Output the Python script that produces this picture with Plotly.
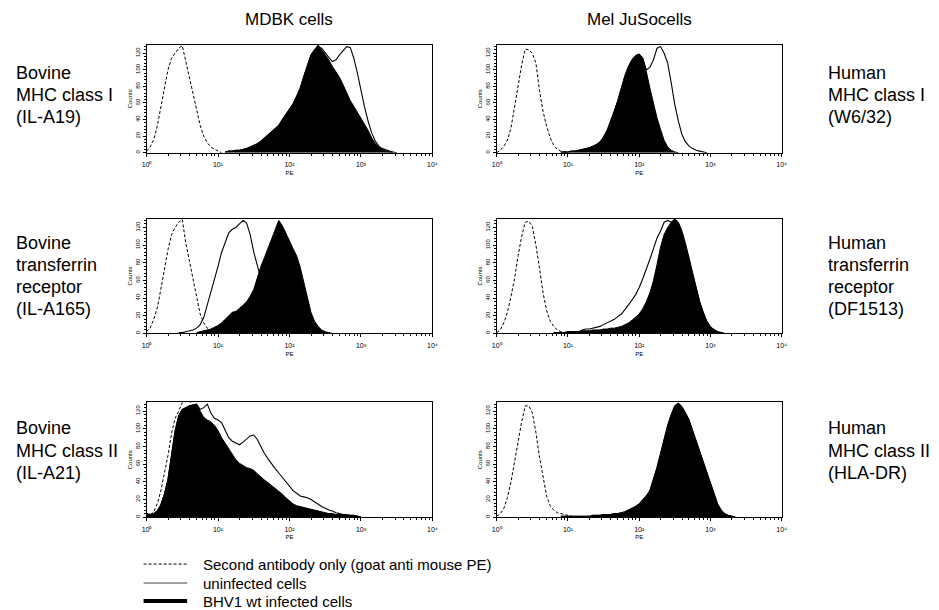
import plotly.graph_objects as go

# ---------------- data ----------------
BIN = 0.05  # histogram channel width in log10(PE)

pe_tick_values = [1, 10, 100, 1000, 10000]
pe_tick_labels = ["10\u2070", "10\u00b9", "10\u00b2", "10\u00b3", "10\u2074"]
count_tick_values = [0, 20, 40, 60, 80, 100, 120]

column_titles = ["MDBK cells", "Mel JuSocells"]
left_labels = [["Bovine", "MHC class I", "(IL-A19)"],
               ["Bovine", "transferrin", "receptor", "(IL-A165)"],
               ["Bovine", "MHC class II", "(IL-A21)"]]
right_labels = [["Human", "MHC class I", "(W6/32)"],
                ["Human", "transferrin", "receptor", "(DF1513)"],
                ["Human", "MHC class II", "(HLA-DR)"]]
legend_labels = ["Second antibody only (goat anti mouse PE)", "uninfected cells", "BHV1 wt infected cells"]

# each series: first channel position (log10 PE) and counts per channel
mdbk_mhc1_control_start = 0.00
mdbk_mhc1_control = [2, 7, 16, 32, 55, 80, 100, 114, 120, 126, 129, 110, 91, 70, 50, 33, 20, 12, 7, 4, 2, 0]
mdbk_mhc1_infected_start = 1.10
mdbk_mhc1_infected = [1, 2, 2, 3, 3, 4, 5, 7, 9, 11, 14, 18, 21, 25, 30, 33, 40, 46, 52, 59, 68, 78, 92, 106, 118,
                      124, 130, 124, 118, 112, 104, 98, 91, 82, 72, 63, 56, 49, 42, 35, 27, 18, 11, 7, 4, 2, 1, 0]
mdbk_mhc1_uninfected_start = 1.10
mdbk_mhc1_uninfected = [1, 2, 2, 3, 3, 4, 5, 7, 9, 11, 14, 18, 21, 25, 30, 33, 40, 46, 52, 59, 68, 78, 92, 106, 118,
                        124, 128, 126, 120, 115, 110, 112, 118, 123, 128, 127, 114, 96, 75, 55, 38, 24, 14, 8, 5, 3,
                        2, 1, 0]

mel_mhc1_control_start = 0.00
mel_mhc1_control = [0, 3, 8, 15, 30, 56, 82, 106, 125, 124, 120, 108, 75, 50, 32, 18, 9, 4, 2, 1, 0]
mel_mhc1_infected_start = 0.90
mel_mhc1_infected = [1, 1, 1, 2, 2, 3, 4, 5, 6, 8, 10, 13, 19, 27, 38, 50, 63, 78, 93, 104, 112, 117, 119, 114, 98,
                     78, 58, 42, 28, 15, 7, 3, 1, 0]
mel_mhc1_uninfected_start = 0.90
mel_mhc1_uninfected = [1, 1, 1, 2, 2, 3, 4, 5, 6, 8, 10, 13, 19, 27, 38, 50, 63, 78, 93, 104, 112, 117, 119, 114, 100,
                       103, 112, 126, 128, 120, 108, 84, 58, 38, 22, 13, 8, 5, 3, 2, 1, 0]

mdbk_tfr_control_start = 0.00
mdbk_tfr_control = [2, 6, 16, 29, 50, 72, 95, 112, 120, 126, 129, 102, 82, 61, 40, 22, 12, 6, 3, 2, 0]
mdbk_tfr_infected_start = 0.70
mdbk_tfr_infected = [1, 2, 3, 4, 5, 7, 9, 12, 16, 21, 24, 25, 28, 32, 36, 42, 50, 64, 76, 86, 96, 108, 118, 128, 122,
                     114, 105, 96, 88, 75, 58, 40, 24, 14, 8, 4, 2, 1, 0]
mdbk_tfr_uninfected_start = 0.45
mdbk_tfr_uninfected = [1, 1, 2, 3, 4, 6, 10, 18, 32, 48, 62, 76, 92, 104, 114, 118, 120, 124, 128, 125, 112, 92, 76,
                       62, 48, 36, 26, 18, 12, 7, 4, 2, 1, 0]

mel_tfr_control_start = 0.00
mel_tfr_control = [1, 4, 12, 24, 42, 62, 88, 110, 126, 127, 121, 100, 74, 46, 26, 14, 8, 4, 2, 1, 0]
mel_tfr_infected_start = 0.80
mel_tfr_infected = [1, 1, 1, 1, 2, 2, 2, 2, 3, 3, 3, 4, 4, 4, 5, 5, 6, 6, 7, 8, 10, 12, 15, 18, 22, 28, 36, 46, 60, 78,
                    98, 112, 120, 126, 130, 126, 116, 102, 86, 68, 52, 36, 24, 14, 8, 4, 2, 1, 0]
mel_tfr_uninfected_start = 0.80
mel_tfr_uninfected = [1, 1, 1, 1, 2, 2, 2, 2, 4, 5, 5, 6, 7, 8, 10, 12, 14, 16, 19, 22, 27, 32, 38, 44, 52, 62, 72, 84,
                      96, 108, 116, 126, 128, 126, 128, 124, 114, 100, 84, 66, 50, 35, 23, 13, 7, 4, 2, 1, 0]

mdbk_mhc2_control_start = 0.00
mdbk_mhc2_control = [0, 2, 6, 15, 30, 50, 70, 95, 112, 120, 132, 140, 135, 120, 100, 80, 60, 42, 28, 18, 10, 5, 2, 0]
mdbk_mhc2_infected_start = 0.00
mdbk_mhc2_infected = [4, 3, 4, 7, 14, 26, 43, 68, 98, 115, 122, 124, 126, 127, 128, 120, 113, 110, 108, 104, 98, 90,
                      84, 77, 71, 65, 61, 58, 56, 55, 53, 49, 45, 42, 39, 36, 32, 29, 26, 22, 18, 15, 13, 12, 11, 10,
                      9, 8, 7, 6, 5, 4, 4, 3, 3, 3, 2, 2, 2, 1, 0]
mdbk_mhc2_uninfected_start = 0.00
mdbk_mhc2_uninfected = [4, 3, 4, 7, 14, 26, 43, 68, 98, 115, 122, 124, 126, 127, 128, 122, 124, 128, 118, 112, 110,
                        107, 98, 90, 86, 84, 82, 85, 88, 92, 93, 88, 80, 72, 66, 60, 55, 50, 45, 39, 34, 30, 27, 24,
                        23, 22, 20, 17, 14, 12, 10, 8, 7, 5, 4, 3, 3, 2, 2, 1, 0]

mel_mhc2_control_start = 0.00
mel_mhc2_control = [1, 4, 10, 22, 40, 62, 88, 108, 126, 126, 118, 96, 68, 44, 24, 13, 8, 5, 4, 3, 2, 1, 0]
mel_mhc2_infected_start = 0.90
mel_mhc2_infected = [1, 1, 1, 1, 1, 1, 1, 1, 1, 2, 2, 2, 3, 3, 3, 4, 4, 5, 6, 8, 10, 12, 15, 19, 24, 30, 42, 56, 72,
                     88, 104, 116, 126, 129, 125, 118, 110, 98, 86, 74, 63, 50, 38, 26, 15, 8, 4, 2, 1, 0]
mel_mhc2_uninfected_start = 0.90
mel_mhc2_uninfected = [1, 1, 1, 1, 1, 1, 1, 1, 1, 2, 2, 2, 3, 3, 3, 4, 4, 5, 6, 8, 10, 12, 15, 19, 24, 30, 42, 56, 72,
                       88, 104, 116, 126, 129, 125, 118, 110, 98, 86, 74, 63, 50, 38, 26, 15, 8, 4, 2, 1, 0]

panels = [
    (mdbk_mhc1_control_start, mdbk_mhc1_control, mdbk_mhc1_infected_start, mdbk_mhc1_infected,
     mdbk_mhc1_uninfected_start, mdbk_mhc1_uninfected),
    (mel_mhc1_control_start, mel_mhc1_control, mel_mhc1_infected_start, mel_mhc1_infected,
     mel_mhc1_uninfected_start, mel_mhc1_uninfected),
    (mdbk_tfr_control_start, mdbk_tfr_control, mdbk_tfr_infected_start, mdbk_tfr_infected,
     mdbk_tfr_uninfected_start, mdbk_tfr_uninfected),
    (mel_tfr_control_start, mel_tfr_control, mel_tfr_infected_start, mel_tfr_infected,
     mel_tfr_uninfected_start, mel_tfr_uninfected),
    (mdbk_mhc2_control_start, mdbk_mhc2_control, mdbk_mhc2_infected_start, mdbk_mhc2_infected,
     mdbk_mhc2_uninfected_start, mdbk_mhc2_uninfected),
    (mel_mhc2_control_start, mel_mhc2_control, mel_mhc2_infected_start, mel_mhc2_infected,
     mel_mhc2_uninfected_start, mel_mhc2_uninfected),
]

# ---------------- layout geometry (pixels of the 939x610 page) ----------------
OFF = 8                      # default page margin of the html body
W, H = 939 - OFF, 610 - OFF  # figure size that fits in the window
FONT = "Liberation Sans, Arial, sans-serif"
col_px = [(143, 432), (497, 785)]
row_px = [(45, 153), (219, 334), (403, 518)]


def px_x(p):
    return (p - OFF) / W


def px_y(p):
    return 1 - (p - OFF) / H


def pe_values(start, counts):
    return [10 ** (start + BIN * i) for i in range(len(counts))]


minor_pe = [m * 10 ** k for k in range(4) for m in range(2, 10)]

fig = go.Figure()
layout = dict(width=W, height=H, margin=dict(l=0, r=0, t=0, b=0),
              paper_bgcolor="white", plot_bgcolor="white", showlegend=False,
              font=dict(family=FONT, color="black"))

for i, (cs, cv, fs, fv, us, uv) in enumerate(panels):
    r, c = divmod(i, 2)
    n = "" if i == 0 else str(i + 1)
    xa, ya = "x" + n, "y" + n
    fig.add_trace(go.Scatter(x=pe_values(cs, cv), y=cv, mode="lines", xaxis=xa, yaxis=ya,
                             line=dict(color="black", width=1, dash="3px,2px")))
    fig.add_trace(go.Scatter(x=pe_values(fs, fv), y=fv, mode="lines", xaxis=xa, yaxis=ya,
                             fill="tozeroy", fillcolor="black", line=dict(color="black", width=1)))
    fig.add_trace(go.Scatter(x=pe_values(us, uv), y=uv, mode="lines", xaxis=xa, yaxis=ya,
                             line=dict(color="black", width=1.1)))
    x0, x1 = col_px[c]
    t, b = row_px[r]
    layout["xaxis" + n] = dict(
        domain=[px_x(x0), px_x(x1)], anchor=ya, type="log", range=[0, 4],
        tickmode="array", tickvals=pe_tick_values, ticktext=pe_tick_labels,
        ticks="outside", ticklen=3, tickwidth=1, tickcolor="black", ticklabelstandoff=2,
        tickfont=dict(size=7, family=FONT),
        minor=dict(tickvals=minor_pe, ticks="outside", ticklen=2, tickcolor="black", tickwidth=1),
        showline=True, linecolor="black", linewidth=1, mirror=True,
        showgrid=False, zeroline=False,
        title=dict(text="PE", font=dict(size=6, family=FONT), standoff=3))
    layout["yaxis" + n] = dict(
        domain=[px_y(b), px_y(t)], anchor=xa, range=[0, 130],
        tickmode="array", tickvals=count_tick_values, tickangle=-90,
        ticks="outside", ticklen=3, tickwidth=1, tickcolor="black",
        tickfont=dict(size=6, family=FONT),
        minor=dict(dtick=4, ticks="outside", ticklen=2, tickcolor="black", tickwidth=1),
        showline=True, linecolor="black", linewidth=1, mirror=True,
        showgrid=False, zeroline=False,
        title=dict(text="Counts", font=dict(size=6, family=FONT), standoff=2))

annotations = []
for c, title in enumerate(column_titles):
    x0, x1 = col_px[c]
    annotations.append(dict(text=title, x=px_x((x0 + x1) / 2), y=px_y(20), xref="paper", yref="paper",
                            xanchor="center", yanchor="middle", showarrow=False,
                            font=dict(size=17, family=FONT)))

label_rows_px = [[73, 95, 117], [243, 265, 287, 309], [429, 452, 474]]
for r in range(3):
    for k, ypx in enumerate(label_rows_px[r]):
        annotations.append(dict(text=left_labels[r][k], x=px_x(9), y=px_y(ypx), xref="paper", yref="paper",
                                xanchor="left", yanchor="middle", showarrow=False,
                                font=dict(size=18, family=FONT)))
        annotations.append(dict(text=right_labels[r][k], x=px_x(830), y=px_y(ypx), xref="paper", yref="paper",
                                xanchor="left", yanchor="middle", showarrow=False,
                                font=dict(size=18, family=FONT)))

legend_y_px = [565, 584, 602]
legend_styles = [dict(color="black", width=1, dash="3px,2px"),
                 dict(color="#808080", width=1.5),
                 dict(color="black", width=4)]
shapes = []
for k, ypx in enumerate(legend_y_px):
    shapes.append(dict(type="line", xref="paper", yref="paper", x0=px_x(140), x1=px_x(184),
                       y0=px_y(ypx), y1=px_y(ypx), line=legend_styles[k]))
    annotations.append(dict(text=legend_labels[k], x=px_x(198), y=px_y(ypx), xref="paper", yref="paper",
                            xanchor="left", yanchor="middle", showarrow=False,
                            font=dict(size=15, family=FONT)))

layout["annotations"] = annotations
layout["shapes"] = shapes
fig.update_layout(**layout)
fig.write_html("out.html")
